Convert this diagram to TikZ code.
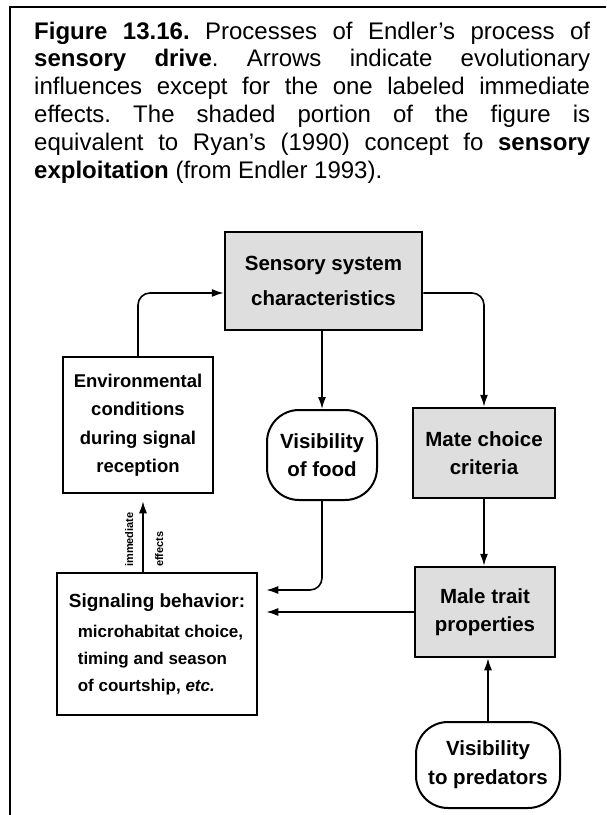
\documentclass[tikz,border=0pt]{standalone}
\usepackage{fontspec}
\setmainfont{Liberation Sans}
\usetikzlibrary{arrows.meta,calc,positioning}
\frenchspacing

\begin{document}
\begin{tikzpicture}[x=1pt, y=-1pt,
	plain_box/.style={draw, line width=2.5pt, inner sep=0pt, align=center, font=\bfseries\fontsize{20.5}{28}\selectfont},
	grey_box/.style={plain_box, fill=black!13},
	round_box/.style={plain_box, line width=2pt, rounded corners=32pt},
	flow/.style={-{Latex[length=12pt,width=8pt]}, line width=1.6pt},
	tag/.style={inner sep=0pt, font=\bfseries\fontsize{11}{13}\selectfont}]
	
	\useasboundingbox (0,0) rectangle (606,815);
	\draw[line width=2pt] (606,7) -- (10,7) -- (10,815);
	
	\node[anchor=north west, inner sep=0pt, text width=556pt, align=justify, font=\fontsize{24}{27.8}\selectfont] (caption) at (34,21.5)
	{\textbf{Figure 13.16.} Processes of Endler's process of\linebreak
		\textbf{sensory drive}. Arrows indicate evolutionary\linebreak
		influences except for the one labeled immediate\linebreak
		effects. The shaded portion of the figure is\linebreak
		equivalent to Ryan's (1990) concept fo \textbf{sensory}\linebreak
		\textbf{exploitation} (from Endler 1993).};
	
	\node[grey_box, minimum width=197pt, minimum height=98pt, font=\bfseries\fontsize{20.5}{35}\selectfont] (sens) at (323.5,281) {Sensory system\\characteristics};
	\node[plain_box, minimum width=150pt, minimum height=136pt, font=\bfseries\fontsize{18.5}{28.5}\selectfont] (env) at (138,425) {Environmental\\conditions\\during signal\\reception};
	\node[round_box, minimum width=110pt, minimum height=90pt] (food) at (322,455) {Visibility\\of food};
	\node[grey_box, minimum width=142pt, minimum height=90pt] (mate) at (484,453) {Mate choice\\criteria};
	\node[grey_box, minimum width=140pt, minimum height=90pt] (male) at (485,612) {Male trait\\properties};
	\node[round_box, minimum width=144pt, minimum height=86pt, font=\bfseries\fontsize{20.5}{29}\selectfont] (pred) at (488,765) {Visibility\\to predators};
	\node[plain_box, align=left, minimum width=200pt, minimum height=142pt, font=\bfseries\fontsize{17}{27}\selectfont] (sig) at (157,644)
	{{\fontsize{19}{27}\selectfont Signaling behavior:}\\[3pt]
		\hspace*{9pt}microhabitat choice,\\
		\hspace*{9pt}timing and season\\
		\hspace*{9pt}of courtship, \textit{etc.}};
	
	\draw[flow, rounded corners=12pt] (env.north) |- ([yshift=-12pt]sens.west);
	\draw[flow, rounded corners=12pt] ([yshift=-12pt]sens.east) -| (mate.north);
	\draw[flow] (sens.south -| food.north) -- (food.north);
	\draw[flow] (mate.south) -- (male.north -| mate.south);
	\draw[flow] (pred.north) -- (male.south -| pred.north);
	\draw[flow, shorten >=8pt] (male.west) -- (sig.east |- male.west);
	\draw[flow, shorten >=8pt, rounded corners=12pt] (food.south) |- ([yshift=54pt]sig.east);
	\draw[flow, shorten >=7pt] ([xshift=5pt]env.south |- sig.north) -- ([xshift=5pt]env.south);
	
	\node[tag, rotate=90, anchor=base west] (imm) at (133,567) {immediate};
	\node[tag, rotate=90, anchor=base west] (eff) at (163,567) {effects};
\end{tikzpicture}
\end{document}
